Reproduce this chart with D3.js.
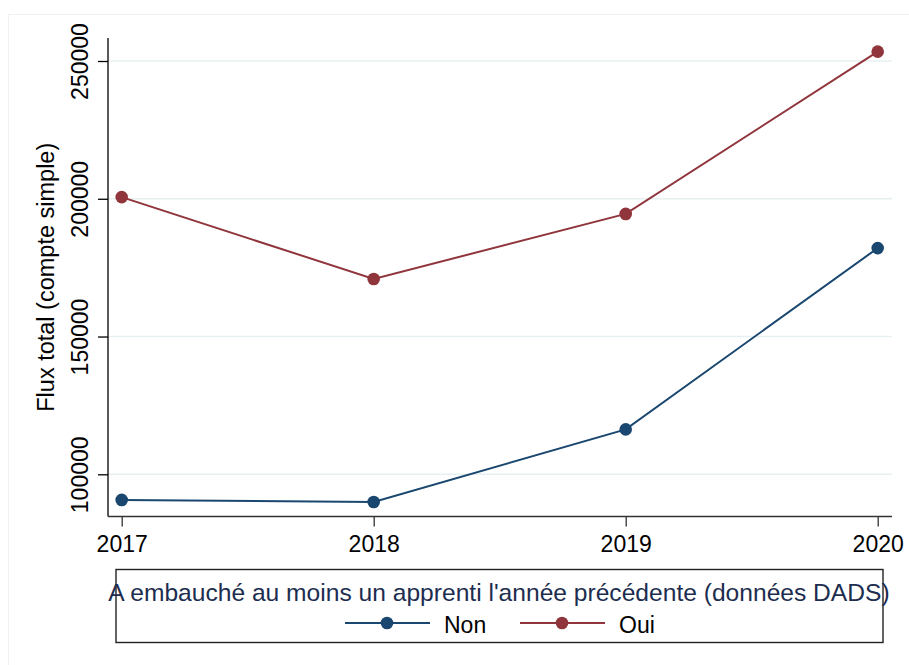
<!DOCTYPE html>
<html>
<head>
<meta charset="utf-8">
<script src="https://cdn.jsdelivr.net/npm/d3@7"></script>
<style>
  html, body { margin: 0; padding: 0; background: #ffffff; }
  svg { display: block; font-family: Arial, "Liberation Sans", sans-serif; }
</style>
</head>
<body>
<script>
// Flux total par année, selon l'embauche d'un apprenti l'année précédente
const years = [2017, 2018, 2019, 2020];
const nonValues = [90700, 89950, 116300, 182100];
const ouiValues = [200600, 170900, 194500, 253400];
const yTickValues = [100000, 150000, 200000, 250000];
const seriesNames = ["Non", "Oui"];
const seriesColors = ["#1a476f", "#90353b"];
const yTitle = "Flux total (compte simple)";
const legendTitle = "A embauché au moins un apprenti l'année précédente (données DADS)";

const W = 909, H = 665;
const svg = d3.select("body").append("svg").attr("width", W).attr("height", H);

// faint outer frame
svg.append("rect").attr("x", 8.5).attr("y", 14.5).attr("width", 910).attr("height", 700)
  .attr("fill", "none").attr("stroke", "#eef2f3").attr("stroke-width", 1);

const plot = { left: 108, right: 892, top: 38, bottom: 516.5 };

const x = d3.scaleLinear().domain([2017, 2020]).range([121.7, 877.7]);
const y = d3.scaleLinear().domain([100000, 250000]).range([474.3, 61]);

// gridlines
svg.append("g").selectAll("line").data(yTickValues).join("line")
  .attr("x1", plot.left).attr("x2", plot.right)
  .attr("y1", d => y(d)).attr("y2", d => y(d))
  .attr("stroke", "#e6f0f1").attr("stroke-width", 1.5);

// y axis
const yAxis = svg.append("g").attr("transform", `translate(${plot.left},0)`)
  .call(d3.axisLeft(y).tickValues(yTickValues).tickSize(10).tickFormat(d3.format("d")));
yAxis.select(".domain").remove();
yAxis.append("line").attr("x1", 0).attr("x2", 0).attr("y1", plot.top).attr("y2", plot.bottom)
  .attr("stroke", "#000").attr("stroke-width", 1.3);
yAxis.selectAll(".tick line").attr("stroke", "#000").attr("stroke-width", 1.3);
yAxis.selectAll(".tick text")
  .attr("x", null).attr("dy", null)
  .attr("transform", "translate(-20,0) rotate(-90)")
  .attr("text-anchor", "middle")
  .attr("font-size", 23).attr("fill", "#000")
  .attr("font-family", "Arial, 'Liberation Sans', sans-serif");

// x axis
const xAxis = svg.append("g").attr("transform", `translate(0,${plot.bottom})`)
  .call(d3.axisBottom(x).tickValues(years).tickSize(10).tickFormat(d3.format("d")));
xAxis.select(".domain").remove();
xAxis.append("line").attr("x1", plot.left).attr("x2", plot.right).attr("y1", 0).attr("y2", 0)
  .attr("stroke", "#333").attr("stroke-width", 1.3);
xAxis.selectAll(".tick line").attr("stroke", "#333").attr("stroke-width", 1.3);
xAxis.selectAll(".tick text")
  .attr("y", 35).attr("dy", null)
  .attr("font-size", 23).attr("fill", "#000")
  .attr("font-family", "Arial, 'Liberation Sans', sans-serif");

// y axis title
svg.append("text")
  .attr("transform", `translate(54,${(plot.top + plot.bottom) / 2}) rotate(-90)`)
  .attr("text-anchor", "middle").attr("font-size", 23.5).attr("fill", "#000")
  .text(yTitle);

// series
const series = [nonValues, ouiValues];
const line = d3.line().x((d, i) => x(years[i])).y(d => y(d));
series.forEach((vals, s) => {
  svg.append("path").datum(vals).attr("d", line)
    .attr("fill", "none").attr("stroke", seriesColors[s]).attr("stroke-width", 2);
  svg.append("g").selectAll("circle").data(vals).join("circle")
    .attr("cx", (d, i) => x(years[i])).attr("cy", d => y(d)).attr("r", 6.3)
    .attr("fill", seriesColors[s]);
});

// legend
const legend = svg.append("g");
legend.append("rect").attr("x", 116).attr("y", 569.5).attr("width", 767).attr("height", 73)
  .attr("fill", "none").attr("stroke", "#222").attr("stroke-width", 1.4);
legend.append("text").attr("x", 499).attr("y", 600.5).attr("text-anchor", "middle")
  .attr("font-size", 24.6).attr("fill", "#1c2d4f").text(legendTitle);

const keyX = [345, 520];
seriesNames.forEach((name, s) => {
  const g = legend.append("g").attr("transform", `translate(${keyX[s]},623)`);
  g.append("line").attr("x1", 0).attr("x2", 85).attr("y1", 0).attr("y2", 0)
    .attr("stroke", seriesColors[s]).attr("stroke-width", 2);
  g.append("circle").attr("cx", 42).attr("cy", 0).attr("r", 6.3).attr("fill", seriesColors[s]);
  g.append("text").attr("x", 99).attr("y", 9.5).attr("font-size", 23).attr("fill", "#000").text(name);
});
</script>
</body>
</html>
